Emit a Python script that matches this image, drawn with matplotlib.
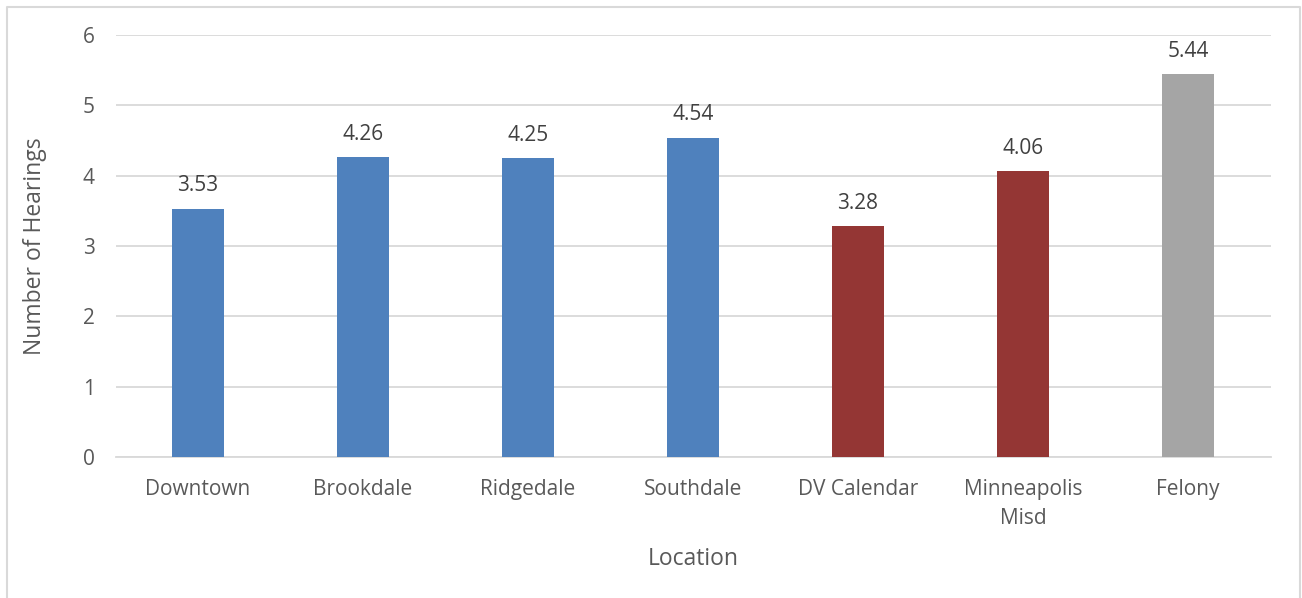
import matplotlib.pyplot as plt
from matplotlib.lines import Line2D

locations = ["Downtown", "Brookdale", "Ridgedale", "Southdale", "DV Calendar", "Minneapolis\nMisd", "Felony"]
hearings = [3.53, 4.26, 4.25, 4.54, 3.28, 4.06, 5.44]
bar_colors = ["#4F81BD", "#4F81BD", "#4F81BD", "#4F81BD", "#943634", "#943634", "#A5A5A5"]

plt.rcParams["font.family"] = ["Open Sans", "DejaVu Sans"]

fig = plt.figure(figsize=(13.02, 5.98), dpi=100)
ax = fig.add_axes([115.5 / 1302, 1 - 457 / 598, 1155 / 1302, 422 / 598])

x = range(len(locations))
bars = ax.bar(x, hearings, width=0.31, color=bar_colors, zorder=3)

# value labels above bars
for b, v in zip(bars, hearings):
    ax.annotate(f"{v:.2f}", (b.get_x() + b.get_width() / 2, v), xytext=(0, 9),
                textcoords="offset points", ha="center", va="bottom",
                fontsize=15, color="#404040")

ax.set_xlim(-0.5, len(locations) - 0.5)
ax.set_ylim(0, 6)
ax.set_yticks(range(0, 7))
ax.set_xticks(list(x))
ax.set_xticklabels(locations, linespacing=1.5)
ax.yaxis.grid(True, color="#D9D9D9", linewidth=1.3, zorder=0)
ax.tick_params(axis="both", length=0, labelsize=15, colors="#595959")
ax.tick_params(axis="y", pad=15)
ax.tick_params(axis="x", pad=16)
for s in ["top", "right", "left"]:
    ax.spines[s].set_visible(False)
ax.spines["bottom"].set_color("#D9D9D9")
ax.spines["bottom"].set_linewidth(1.3)

ax.set_xlabel("Location", fontsize=16.5, color="#595959", labelpad=13)
ax.set_ylabel("Number of Hearings", fontsize=16.5, color="#595959", labelpad=26)

# chart border (left, top, right)
bx0, bx1, by0 = 6.5 / 1302, 1299.5 / 1302, 1 - 6.5 / 598
fig.add_artist(Line2D([bx0, bx0, bx1, bx1], [0, by0, by0, 0], transform=fig.transFigure,
                      color="#D9D9D9", linewidth=1.5))

plt.savefig("out.png", dpi=100)
